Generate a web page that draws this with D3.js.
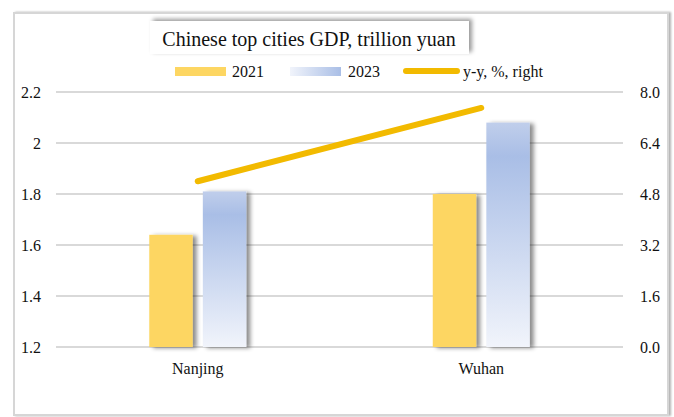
<!DOCTYPE html>
<html>
<head>
<meta charset="utf-8">
<script src="https://cdn.jsdelivr.net/npm/d3@7"></script>
<style>
  html, body { margin: 0; padding: 0; background: #fff; }
  svg { display: block; }
  svg text { font-family: "Liberation Serif", "DejaVu Serif", serif !important; }
</style>
</head>
<body>
<svg id="chart" width="674" height="417"></svg>
<script>
// GDP of top Chinese cities, trillion yuan, with y-y growth on the right axis
const cities = ["Nanjing", "Wuhan"];
const series = ["2021", "2023"];
const gdp2021 = [1.64, 1.80];
const gdp2023 = [1.81, 2.08];
const growthYY = [5.2, 7.5];
const leftTicks = [1.2, 1.4, 1.6, 1.8, 2.0, 2.2];
const rightTicks = [0, 1.6, 3.2, 4.8, 6.4, 8.0];

const svg = d3.select("#chart");
const defs = svg.append("defs");

// bar shadow
const sh = defs.append("filter").attr("id", "barShadow")
  .attr("x", "-20%").attr("y", "-10%").attr("width", "150%").attr("height", "130%");
sh.append("feDropShadow").attr("dx", 4).attr("dy", 1).attr("stdDeviation", 2)
  .attr("flood-color", "#000").attr("flood-opacity", 0.45);

const tsh = defs.append("filter").attr("id", "titleShadow")
  .attr("x", "-10%").attr("y", "-40%").attr("width", "120%").attr("height", "180%");
tsh.append("feDropShadow").attr("dx", 3).attr("dy", -2).attr("stdDeviation", 2)
  .attr("flood-color", "#000").attr("flood-opacity", 0.4);

const fsh = defs.append("filter").attr("id", "frameShadow")
  .attr("x", "-5%").attr("y", "-5%").attr("width", "110%").attr("height", "110%");
fsh.append("feDropShadow").attr("dx", 2).attr("dy", 0).attr("stdDeviation", 1)
  .attr("flood-color", "#000").attr("flood-opacity", 0.3);

// vertical gradient for 2023 bars
const g23 = defs.append("linearGradient").attr("id", "grad2023")
  .attr("x1", 0).attr("y1", 0).attr("x2", 0).attr("y2", 1);
g23.append("stop").attr("offset", "0%").attr("stop-color", "#C0CEEB");
g23.append("stop").attr("offset", "15%").attr("stop-color", "#A9BEE6");
g23.append("stop").attr("offset", "100%").attr("stop-color", "#F1F4FB");

// horizontal gradient for the 2023 legend swatch
const g23h = defs.append("linearGradient").attr("id", "grad2023h")
  .attr("x1", 0).attr("y1", 0).attr("x2", 1).attr("y2", 0);
g23h.append("stop").attr("offset", "0%").attr("stop-color", "#F1F4FB");
g23h.append("stop").attr("offset", "100%").attr("stop-color", "#A9BEE6");

const colors = { "2021": "#FDD662", "2023": "url(#grad2023)" };
const lineColor = "#F2BA00";
const textColor = "#111";

// outer frame
svg.append("rect").attr("x", 14).attr("y", 13).attr("width", 654).attr("height", 402)
  .attr("fill", "#fff").attr("stroke", "#D6D6D6").attr("stroke-width", 2)
  .attr("filter", "url(#frameShadow)");

// scales
const x = d3.scaleBand().domain(cities).range([56, 623])
  .paddingInner(0.658).paddingOuter(0.329);
const xc = d3.scaleBand().domain(cities).range([56, 623]);
const xs = d3.scaleBand().domain(series).range([0, x.bandwidth()]).paddingInner(0.19);
const yL = d3.scaleLinear().domain([1.2, 2.2]).range([347, 92]);
const yR = d3.scaleLinear().domain([0, 8]).range([347, 92]);

// gridlines
svg.append("g").selectAll("line").data(leftTicks).join("line")
  .attr("x1", 56).attr("x2", 623)
  .attr("y1", d => yL(d)).attr("y2", d => yL(d))
  .attr("stroke", "#D9D9D9").attr("stroke-width", 2);

// left axis
const axL = svg.append("g").attr("transform", "translate(41,0)")
  .call(d3.axisLeft(yL).tickValues(leftTicks).tickSize(0).tickPadding(0)
    .tickFormat(d => String(+d.toFixed(1))));
axL.attr("font-family", null);
axL.select(".domain").remove();
axL.selectAll("text").attr("font-size", 16).attr("fill", textColor);

// right axis
const axR = svg.append("g").attr("transform", "translate(640,0)")
  .call(d3.axisRight(yR).tickValues(rightTicks).tickSize(0).tickPadding(0)
    .tickFormat(d3.format(".1f")));
axR.attr("font-family", null);
axR.select(".domain").remove();
axR.selectAll("text").attr("font-size", 16).attr("fill", textColor);

// bars
const rows = cities.map((c, i) => ({ city: c, values: [
  { s: "2021", v: gdp2021[i] }, { s: "2023", v: gdp2023[i] } ] }));
const grp = svg.append("g").selectAll("g").data(rows).join("g")
  .attr("transform", d => `translate(${x(d.city)},0)`);
grp.selectAll("rect").data(d => d.values).join("rect")
  .attr("x", d => xs(d.s)).attr("width", xs.bandwidth())
  .attr("y", d => yL(d.v)).attr("height", d => yL(1.2) - yL(d.v))
  .attr("fill", d => colors[d.s]).attr("filter", "url(#barShadow)");

// category labels
svg.append("g").selectAll("text").data(cities).join("text")
  .attr("x", d => xc(d) + xc.bandwidth() / 2).attr("y", 374)
  .attr("text-anchor", "middle").attr("font-size", 16).attr("fill", textColor)
  .text(d => d);

// growth line on the right axis
const line = d3.line().x(d => xc(d.c) + xc.bandwidth() / 2).y(d => yR(d.v));
svg.append("path").datum(cities.map((c, i) => ({ c, v: growthYY[i] })))
  .attr("d", line).attr("fill", "none").attr("stroke", lineColor)
  .attr("stroke-width", 6).attr("stroke-linecap", "round");

// title box
svg.append("rect").attr("x", 150).attr("y", 21).attr("width", 319).attr("height", 33)
  .attr("fill", "#fff").attr("filter", "url(#titleShadow)");
svg.append("text").attr("x", 309).attr("y", 46).attr("text-anchor", "middle")
  .attr("font-size", 20).attr("fill", textColor)
  .text("Chinese top cities GDP, trillion yuan");

// legend
const legend = [
  { label: "2021", kind: "rect", fill: "#FDD662", x: 175, tx: 232 },
  { label: "2023", kind: "rect", fill: "url(#grad2023h)", x: 290, tx: 348 },
  { label: "y-y, %, right", kind: "line", fill: lineColor, x: 406, tx: 463 }
];
const lg = svg.append("g").selectAll("g").data(legend).join("g");
lg.filter(d => d.kind === "rect").append("rect")
  .attr("x", d => d.x).attr("y", 67).attr("width", 51).attr("height", 9)
  .attr("fill", d => d.fill);
lg.filter(d => d.kind === "line").append("line")
  .attr("x1", d => d.x).attr("x2", d => d.x + 51).attr("y1", 71).attr("y2", 71)
  .attr("stroke", d => d.fill).attr("stroke-width", 6).attr("stroke-linecap", "round");
lg.append("text").attr("x", d => d.tx).attr("y", 77)
  .attr("font-size", 16).attr("fill", textColor).text(d => d.label);
</script>
</body>
</html>
